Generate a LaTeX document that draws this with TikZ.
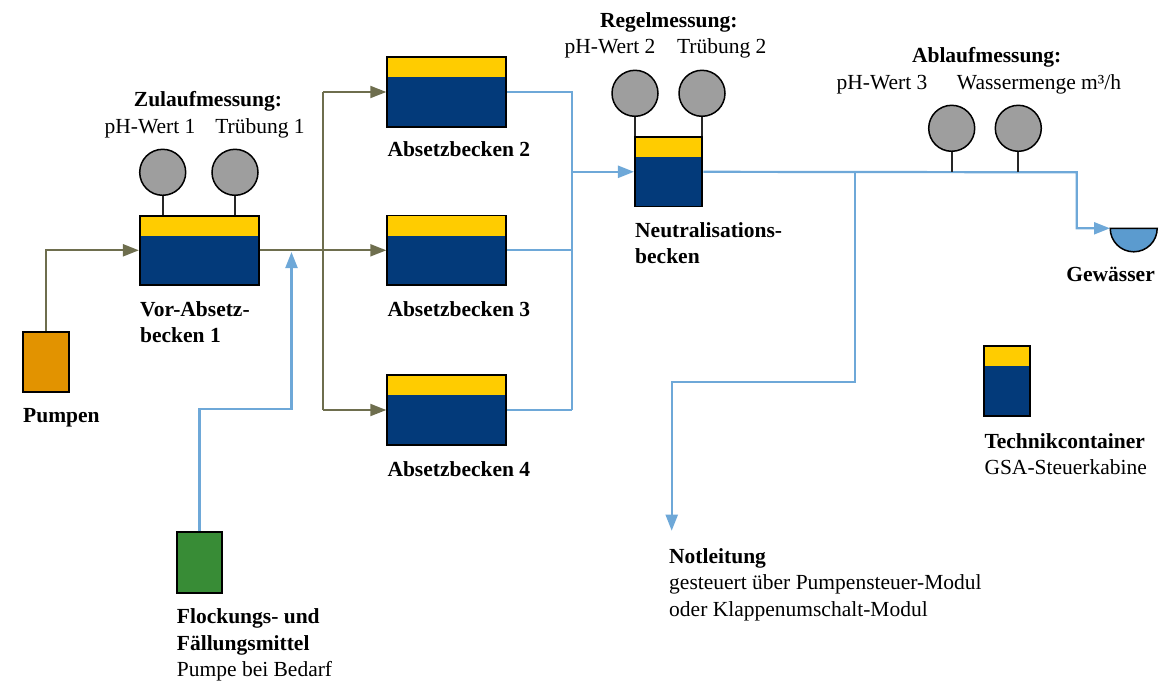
\documentclass[tikz,border=0pt]{standalone}
\usepackage{fontspec}
\setmainfont{Liberation Serif}
\usetikzlibrary{arrows.meta}
\definecolor{navyc}{HTML}{033A7A}
\definecolor{yellowc}{HTML}{FFCC00}
\definecolor{orangec}{HTML}{E29300}
\definecolor{greenc}{HTML}{388C36}
\definecolor{greyc}{HTML}{9E9E9E}
\definecolor{bluel}{HTML}{6EA8D8}
\definecolor{olivel}{HTML}{6E6E4E}
\definecolor{waterc}{HTML}{5B9BCF}
\begin{document}
\begin{tikzpicture}[x=1pt,y=-1pt,
  every node/.style={font=\fontsize{21.5}{26.3}\selectfont},
  tank/.style={draw=black,line width=1.8pt,fill=navyc,inner sep=0pt,
    path picture={\fill[yellowc] (path picture bounding box.north west) rectangle ([yshift=-20pt]path picture bounding box.north east);}},
  solid box/.style={draw=black,line width=1.8pt,inner sep=0pt},
  sensor/.style={circle,draw=black,line width=1.5pt,fill=greyc,minimum size=46pt,inner sep=0pt},
  stem/.style={draw=black!85,line width=2pt},
  oline/.style={draw=olivel,line width=2.2pt},
  bline/.style={draw=bluel,line width=2.2pt},
  tip/.style={-{Triangle[length=16pt,width=12pt]}},
  lbl/.style={anchor=base west,inner sep=0pt,align=left},
  clbl/.style={anchor=base,inner sep=0pt}]
\useasboundingbox (0,0) rectangle (1164,682);

% tanks
\node[tank,minimum width=119pt,minimum height=69pt] (vor) at (199.3,250.3) {};
\node[tank,minimum width=119pt,minimum height=70pt] (ab2) at (446.7,92) {};
\node[tank,minimum width=119pt,minimum height=69.5pt] (ab3) at (446.7,250.3) {};
\node[tank,minimum width=119pt,minimum height=69.7pt] (ab4) at (446.7,410) {};
\node[tank,minimum width=67.5pt,minimum height=69.3pt] (neu) at (668.6,171.8) {};
\node[tank,minimum width=45.7pt,minimum height=70pt] (tech) at (1007.2,380.7) {};
\node[solid box,fill=orangec,minimum width=46pt,minimum height=60.6pt] (pump) at (46,362) {};
\node[solid box,fill=greenc,minimum width=45.6pt,minimum height=60.4pt] (floc) at (199.5,562.5) {};

% sensors
\node[sensor] (s1) at (162.7,172.3) {};
\node[sensor] (s2) at (235,172.3) {};
\node[sensor] (s3) at (635,93.3) {};
\node[sensor] (s4) at (702,93.3) {};
\node[sensor] (s5) at (951.7,128.3) {};
\node[sensor] (s6) at (1018.3,128.3) {};

% coordinates
\coordinate (split) at (323.3,250.3);
\coordinate (col) at (571.7,410);
\coordinate (fk) at (291.5,409);
\coordinate (fin) at (291.5,252);
\coordinate (jr) at (1076.7,172.3);
\coordinate (gew) at (1110,228.3);
\coordinate (br) at (855,172.3);
\coordinate (bk) at (855,381.7);
\coordinate (nl) at (671.7,530.7);

% Gewaesser half disc
\filldraw[fill=waterc,draw=black,line width=1.5pt] (1110.2,228.3) arc[start angle=180,end angle=0,radius=23.5] -- cycle;

% olive connectors
\draw[oline,tip] (pump.north) |- (vor.west);
\draw[oline,tip] (vor.east) -- (ab3.west);
\draw[oline] (split |- ab2.west) -- (split |- ab4.west);
\draw[oline,tip] (split |- ab2.west) -- (ab2.west);
\draw[oline,tip] (split |- ab4.west) -- (ab4.west);

% blue connectors
\draw[bline,tip] (floc.north) |- (fk) -- (fin);
\draw[bline] (ab2.east) -| (col);
\draw[bline] (ab3.east) -- (ab3.east -| col);
\draw[bline] (ab4.east) -- (col);
\draw[bline,tip] (col |- neu.west) -- (neu.west);
\draw[bline,tip] (neu.east) -- (jr) |- (gew);
\draw[bline,tip] (br) -- (bk) -| (nl);

% stems
\draw[stem] (s1.south) -- (s1.south |- vor.north);
\draw[stem] (s2.south) -- (s2.south |- vor.north);
\draw[stem] (s3.south) -- (s3.south |- neu.north);
\draw[stem] (s4.south) -- (s4.south |- neu.north);
\draw[stem] (s5.south) -- (s5.south |- jr);
\draw[stem] (s6.south) -- (s6.south |- jr);

% labels
\node[clbl] (zl) at (208,106.7) {\textbf{Zulaufmessung:}};
\node[clbl] (zl1) at (150,133.3) {pH-Wert 1};
\node[clbl] (zl2) at (260,133.3) {Trübung 1};
\node[clbl] (rl) at (668.8,27.7) {\textbf{Regelmessung:}};
\node[clbl] (rl1) at (610,53.3) {pH-Wert 2};
\node[clbl] (rl2) at (721.7,53.3) {Trübung 2};
\node[clbl] (al) at (986.7,62.7) {\textbf{Ablaufmessung:}};
\node[clbl] (al1) at (882,90) {pH-Wert 3};
\node[clbl] (al2) at (1039,90) {Wassermenge m³/h};

% multi-line labels: base anchor = baseline of the last line
\node[lbl] (lvor) at (140,342.5) {\textbf{Vor-Absetz-}\\\textbf{becken 1}};
\node[lbl] (lpump) at (23,422.7) {\textbf{Pumpen}};
\node[lbl] (lab2) at (387.3,156.7) {\textbf{Absetzbecken 2}};
\node[lbl] (lab3) at (387.3,316) {\textbf{Absetzbecken 3}};
\node[lbl] (lab4) at (387.3,476) {\textbf{Absetzbecken 4}};
\node[lbl] (lneu) at (635,263.5) {\textbf{Neutralisations-}\\\textbf{becken}};
\node[anchor=base east,inner sep=0pt] (lgew) at (1155,281.7) {\textbf{Gewässer}};
\node[lbl] (ltech) at (984.3,474.3) {\textbf{Technikcontainer}\\GSA-Steuerkabine};
\node[lbl] (lnot) at (669,616) {\textbf{Notleitung}\\gesteuert über Pumpensteuer-Modul\\oder Klappenumschalt-Modul};
\node[lbl] (lfloc) at (176.7,676.5) {\textbf{Flockungs- und}\\\textbf{Fällungsmittel}\\Pumpe bei Bedarf};
\end{tikzpicture}
\end{document}
